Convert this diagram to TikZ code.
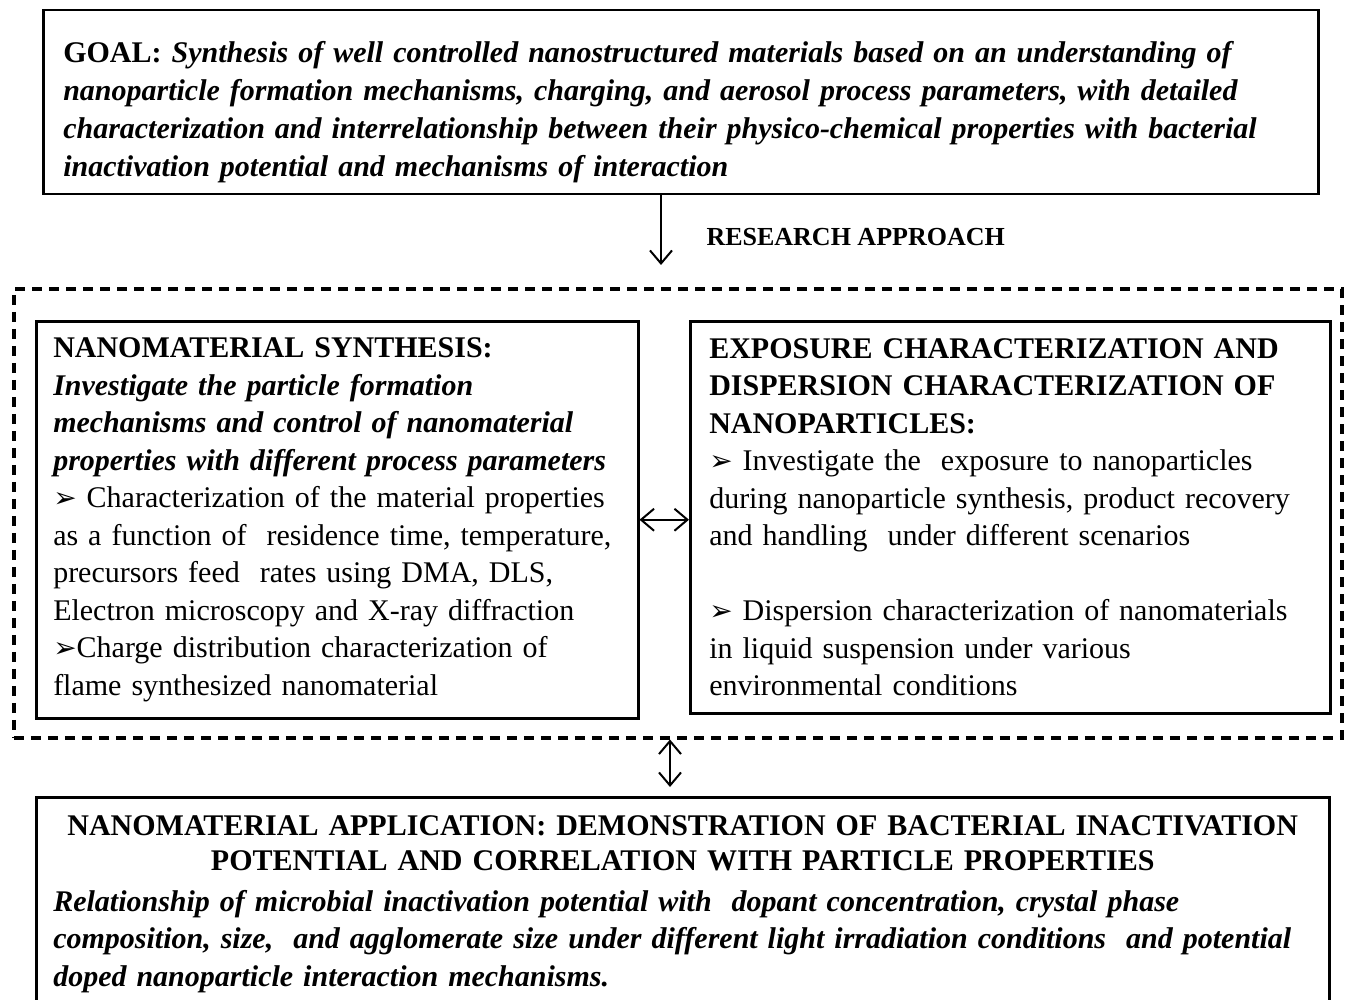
\documentclass[tikz,border=0pt]{standalone}
\usepackage{fontspec}
\setmainfont{Liberation Serif}
\newfontfamily\symfont{DejaVu Sans}
\usetikzlibrary{arrows.meta}

\newcommand{\pointer}{{\symfont\fontsize{28}{28}\selectfont\char"27A2}}

\begin{document}
\begin{tikzpicture}[x=1pt,y=-1pt,
    box/.style={draw,line width=2.5pt,anchor=north west,inner xsep=17pt,inner ysep=8pt,align=left,
      font=\fontsize{30}{37.5}\selectfont},
    link/.style={line width=2pt},
    >={Straight Barb[length=13pt,width=22pt]}]
    \clip (0,0) rectangle (1346,1000);

    % Goal
    \node[box,inner xsep=20pt,text width=1235pt,minimum height=184pt,font=\fontsize{30}{38}\selectfont\bfseries\itshape] (goal) at (42,9)
      {\rule{0pt}{40pt}{\upshape GOAL:}\ Synthesis of well controlled nanostructured materials based on an understanding of\\
       nanoparticle formation mechanisms, charging, and aerosol process parameters, with detailed\\
       characterization and interrelationship between their physico-chemical properties with bacterial\\
       inactivation potential and mechanisms of interaction};

    % Research approach
    \coordinate (ra) at (661,265);
    \draw[link,->] (ra |- goal.south) -- (ra);
    \node[anchor=west,font=\fontsize{26}{30}\selectfont\bfseries] (ratext) at (703,237) {RESEARCH APPROACH};

    % Dashed frame
    \node[draw,line width=3.5pt,dash pattern=on 10pt off 7pt,anchor=north west,minimum width=1328pt,minimum height=449pt] (approach) at (12,287) {};

    % Synthesis
    \node[box,text width=568pt,minimum height=397pt] (synth) at (35,320)
      {\textbf{NANOMATERIAL SYNTHESIS:}\\
       \textbf{\itshape Investigate the particle formation}\\
       \textbf{\itshape mechanisms and control of nanomaterial}\\
       \textbf{\itshape properties with different process parameters}\\
       \pointer\ Characterization of the material properties\\
       as a function of\ \ residence time, temperature,\\
       precursors feed\ \ rates using DMA, DLS,\\
       Electron microscopy and X-ray diffraction\\
       \pointer Charge distribution characterization of\\
       flame synthesized nanomaterial};

    % Exposure
    \node[box,inner xsep=19pt,text width=602pt,minimum height=392pt] (expo) at (689,320)
      {\textbf{EXPOSURE CHARACTERIZATION AND}\\
       \textbf{DISPERSION CHARACTERIZATION OF}\\
       \textbf{NANOPARTICLES:}\\
       \pointer\ Investigate the\ \ exposure to nanoparticles\\
       during nanoparticle synthesis, product recovery\\
       and handling\ \ under different scenarios\\[37.5pt]
       \pointer\ Dispersion characterization of nanomaterials\\
       in liquid suspension under various\\
       environmental conditions};

    \draw[link,<->] (synth.east) -- (synth.east -| expo.west);

    % Application
    \coordinate (va) at (670,787);
    \draw[link,<->] (va |- approach.south) -- (va);
    \node[box,inner ysep=18pt,text width=1259pt] (appl) at (35,796)
      {\makebox[1259pt]{\bfseries NANOMATERIAL APPLICATION: DEMONSTRATION OF BACTERIAL INACTIVATION}\\[-2pt]
       \makebox[1259pt]{\bfseries POTENTIAL AND CORRELATION WITH PARTICLE PROPERTIES}\\[3pt]
       {\bfseries\itshape Relationship of microbial inactivation potential with\ \ dopant concentration, crystal phase}\\
       {\bfseries\itshape composition, size,\ \ and agglomerate size under different light irradiation conditions\ \ and potential}\\
       {\bfseries\itshape doped nanoparticle interaction mechanisms.}\\
       \mbox{}};
\end{tikzpicture}
\end{document}
